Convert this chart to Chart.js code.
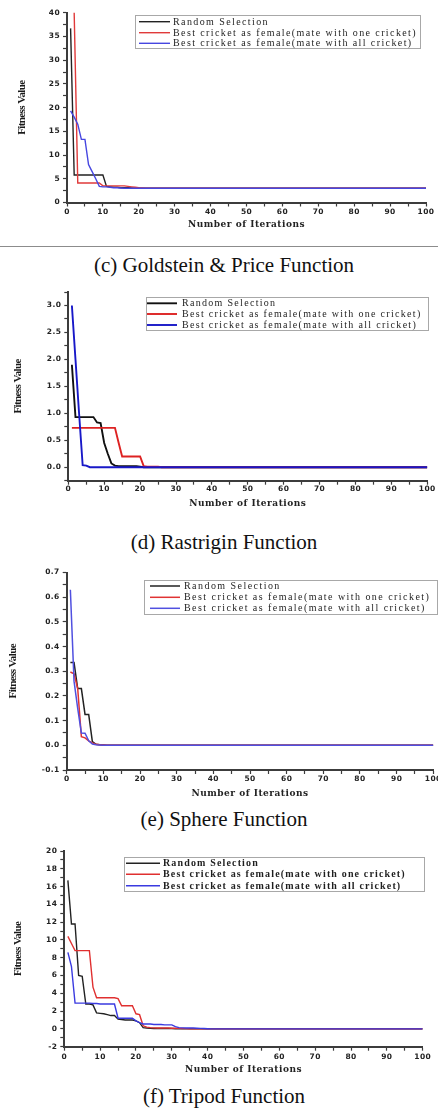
<!DOCTYPE html>
<html><head><meta charset="utf-8">
<script src="https://cdn.jsdelivr.net/npm/chart.js@4.4.1/dist/chart.umd.min.js"></script>
<style>
html,body{margin:0;padding:0;background:#fff;width:438px;height:1110px;overflow:hidden;position:relative}
canvas{position:absolute;left:0}
.cap{position:absolute;left:5px;width:438px;text-align:center;font-family:"Liberation Serif","Times New Roman",serif;font-size:21px;line-height:21px;color:#111;white-space:nowrap}
.sep{position:absolute;left:0;width:438px;top:246px;height:1px;background:#8c8c8c}
</style></head><body>
<canvas id="c1" width="438" height="240" style="top:0px"></canvas>
<div class="sep"></div>
<div class="cap" style="top:255px">(c) Goldstein &amp; Price Function</div>
<canvas id="c2" width="438" height="235" style="top:280px"></canvas>
<div class="cap" style="top:532px">(d) Rastrigin Function</div>
<canvas id="c3" width="438" height="245" style="top:560px"></canvas>
<div class="cap" style="top:809px">(e) Sphere Function</div>
<canvas id="c4" width="438" height="242" style="top:838px"></canvas>
<div class="cap" style="top:1086px">(f) Tripod Function</div>
<script>
// ---------- data ----------
const iterations = [1,2,3,4,5,6,7,8,9,10,11,12,13,14,15,16,17,18,19,20,21,22,23,24,25,26,27,28,29,30,31,32,33,34,35,36,37,38,39,40,41,42,43,44,45,46,47,48,49,50,51,52,53,54,55,56,57,58,59,60,61,62,63,64,65,66,67,68,69,70,71,72,73,74,75,76,77,78,79,80,81,82,83,84,85,86,87,88,89,90,91,92,93,94,95,96,97,98,99,100];
const seriesNames = ['Random Selection','Best cricket as female(mate with one cricket)','Best cricket as female(mate with all cricket)'];

// (c) Goldstein & Price
const gpRandom = [36.7,5.8,5.8,5.8,5.8,5.8,5.8,5.8,5.8,5.8,3.4,3.3,3.2,3.2,3.1,3.1,3.1,3.05,3.0,3.0,3.0,3.0,3.0,3.0,3.0,3.0,3.0,3.0,3.0,3.0,3.0,3.0,3.0,3.0,3.0,3.0,3.0,3.0,3.0,3.0,3.0,3.0,3.0,3.0,3.0,3.0,3.0,3.0,3.0,3.0,3.0,3.0,3.0,3.0,3.0,3.0,3.0,3.0,3.0,3.0,3.0,3.0,3.0,3.0,3.0,3.0,3.0,3.0,3.0,3.0,3.0,3.0,3.0,3.0,3.0,3.0,3.0,3.0,3.0,3.0,3.0,3.0,3.0,3.0,3.0,3.0,3.0,3.0,3.0,3.0,3.0,3.0,3.0,3.0,3.0,3.0,3.0,3.0,3.0,3.0];
const gpOne = [55,40,4.1,4.1,4.1,4.1,4.1,4.1,4.1,3.5,3.5,3.5,3.5,3.5,3.5,3.5,3.4,3.3,3.2,3.1,3.05,3.0,3.0,3.0,3.0,3.0,3.0,3.0,3.0,3.0,3.0,3.0,3.0,3.0,3.0,3.0,3.0,3.0,3.0,3.0,3.0,3.0,3.0,3.0,3.0,3.0,3.0,3.0,3.0,3.0,3.0,3.0,3.0,3.0,3.0,3.0,3.0,3.0,3.0,3.0,3.0,3.0,3.0,3.0,3.0,3.0,3.0,3.0,3.0,3.0,3.0,3.0,3.0,3.0,3.0,3.0,3.0,3.0,3.0,3.0,3.0,3.0,3.0,3.0,3.0,3.0,3.0,3.0,3.0,3.0,3.0,3.0,3.0,3.0,3.0,3.0,3.0,3.0,3.0,3.0];
const gpAll = [19.3,18.0,16.5,13.3,13.3,8.0,6.5,5.0,3.4,3.3,3.3,3.2,3.1,3.1,3.05,3.0,3.0,3.0,3.0,3.0,3.0,3.0,3.0,3.0,3.0,3.0,3.0,3.0,3.0,3.0,3.0,3.0,3.0,3.0,3.0,3.0,3.0,3.0,3.0,3.0,3.0,3.0,3.0,3.0,3.0,3.0,3.0,3.0,3.0,3.0,3.0,3.0,3.0,3.0,3.0,3.0,3.0,3.0,3.0,3.0,3.0,3.0,3.0,3.0,3.0,3.0,3.0,3.0,3.0,3.0,3.0,3.0,3.0,3.0,3.0,3.0,3.0,3.0,3.0,3.0,3.0,3.0,3.0,3.0,3.0,3.0,3.0,3.0,3.0,3.0,3.0,3.0,3.0,3.0,3.0,3.0,3.0,3.0,3.0,3.0];

// (d) Rastrigin
const raRandom = [1.9,0.93,0.93,0.93,0.93,0.93,0.93,0.83,0.82,0.45,0.25,0.07,0.03,0.02,0.02,0.02,0.02,0.02,0.02,0.01,0,0,0,0,0,0,0,0,0,0,0,0,0,0,0,0,0,0,0,0,0,0,0,0,0,0,0,0,0,0,0,0,0,0,0,0,0,0,0,0,0,0,0,0,0,0,0,0,0,0,0,0,0,0,0,0,0,0,0,0,0,0,0,0,0,0,0,0,0,0,0,0,0,0,0,0,0,0,0,0];
const raOne = [0.73,0.73,0.73,0.73,0.73,0.73,0.73,0.73,0.73,0.73,0.73,0.73,0.73,0.46,0.2,0.2,0.2,0.2,0.2,0.2,0.02,0.01,0.01,0.01,0.01,0,0,0,0,0,0,0,0,0,0,0,0,0,0,0,0,0,0,0,0,0,0,0,0,0,0,0,0,0,0,0,0,0,0,0,0,0,0,0,0,0,0,0,0,0,0,0,0,0,0,0,0,0,0,0,0,0,0,0,0,0,0,0,0,0,0,0,0,0,0,0,0,0,0,0];
const raAll = [3.0,2.0,1.0,0.04,0.03,0,0,0,0,0,0,0,0,0,0,0,0,0,0,0,0,0,0,0,0,0,0,0,0,0,0,0,0,0,0,0,0,0,0,0,0,0,0,0,0,0,0,0,0,0,0,0,0,0,0,0,0,0,0,0,0,0,0,0,0,0,0,0,0,0,0,0,0,0,0,0,0,0,0,0,0,0,0,0,0,0,0,0,0,0,0,0,0,0,0,0,0,0,0,0];

// (e) Sphere
const spRandom = [0.335,0.335,0.23,0.23,0.125,0.125,0.015,0.004,0.002,0.001,0,0,0,0,0,0,0,0,0,0,0,0,0,0,0,0,0,0,0,0,0,0,0,0,0,0,0,0,0,0,0,0,0,0,0,0,0,0,0,0,0,0,0,0,0,0,0,0,0,0,0,0,0,0,0,0,0,0,0,0,0,0,0,0,0,0,0,0,0,0,0,0,0,0,0,0,0,0,0,0,0,0,0,0,0,0,0,0,0,0];
const spOne = [0.297,0.29,0.23,0.035,0.03,0.018,0.01,0.004,0.002,0.001,0,0,0,0,0,0,0,0,0,0,0,0,0,0,0,0,0,0,0,0,0,0,0,0,0,0,0,0,0,0,0,0,0,0,0,0,0,0,0,0,0,0,0,0,0,0,0,0,0,0,0,0,0,0,0,0,0,0,0,0,0,0,0,0,0,0,0,0,0,0,0,0,0,0,0,0,0,0,0,0,0,0,0,0,0,0,0,0,0,0];
const spAll = [0.63,0.26,0.15,0.05,0.049,0.018,0.005,0.002,0.001,0,0,0,0,0,0,0,0,0,0,0,0,0,0,0,0,0,0,0,0,0,0,0,0,0,0,0,0,0,0,0,0,0,0,0,0,0,0,0,0,0,0,0,0,0,0,0,0,0,0,0,0,0,0,0,0,0,0,0,0,0,0,0,0,0,0,0,0,0,0,0,0,0,0,0,0,0,0,0,0,0,0,0,0,0,0,0,0,0,0,0];

// (f) Tripod
const trRandom = [16.7,11.8,11.8,6.0,5.9,2.8,2.8,2.7,1.8,1.75,1.7,1.6,1.5,1.5,1.1,1.05,1.0,1.0,1.0,0.9,0.7,0.15,0.1,0.06,0.05,0.05,0.05,0.05,0.05,0.04,0.02,0.01,0,0,0,0,0,0,0,0,0,0,0,0,0,0,0,0,0,0,0,0,0,0,0,0,0,0,0,0,0,0,0,0,0,0,0,0,0,0,0,0,0,0,0,0,0,0,0,0,0,0,0,0,0,0,0,0,0,0,0,0,0,0,0,0,0,0,0,0];
const trOne = [10.4,9.6,8.8,8.8,8.8,8.8,8.8,4.7,3.5,3.5,3.5,3.5,3.5,3.5,3.4,2.6,2.6,2.6,2.6,1.7,1.6,0.35,0.2,0.15,0.12,0.1,0.1,0.1,0.1,0.08,0.08,0.06,0.05,0.03,0.01,0,0,0,0,0,0,0,0,0,0,0,0,0,0,0,0,0,0,0,0,0,0,0,0,0,0,0,0,0,0,0,0,0,0,0,0,0,0,0,0,0,0,0,0,0,0,0,0,0,0,0,0,0,0,0,0,0,0,0,0,0,0,0,0,0];
const trAll = [8.6,7.0,2.9,2.9,2.9,2.9,2.9,2.85,2.85,2.8,2.8,2.8,2.8,2.8,1.2,1.2,1.2,1.2,1.2,0.9,0.7,0.55,0.55,0.55,0.5,0.5,0.5,0.45,0.45,0.45,0.25,0.15,0.12,0.1,0.1,0.1,0.08,0.06,0.04,0.02,0,0,0,0,0,0,0,0,0,0,0,0,0,0,0,0,0,0,0,0,0,0,0,0,0,0,0,0,0,0,0,0,0,0,0,0,0,0,0,0,0,0,0,0,0,0,0,0,0,0,0,0,0,0,0,0,0,0,0,0];

// ---------- helpers ----------
const boxLegend = {
  id: 'boxLegend',
  afterDatasetsDraw(chart, args, o) {
    const ctx = chart.ctx;
    ctx.save();
    ctx.fillStyle = '#fff';
    ctx.fillRect(o.x1, o.y1, o.x2 - o.x1, o.y2 - o.y1);
    ctx.strokeStyle = '#a8a8a8'; ctx.lineWidth = 1;
    ctx.strokeRect(Math.round(o.x1) + 0.5, Math.round(o.y1) + 0.5, Math.round(o.x2 - o.x1), Math.round(o.y2 - o.y1));
    ctx.font = o.font; ctx.letterSpacing = o.spacing;
    ctx.textBaseline = 'middle'; ctx.textAlign = 'left';
    chart.data.datasets.forEach((d, i) => {
      const y = o.rows[i];
      ctx.strokeStyle = d.borderColor; ctx.lineWidth = d.borderWidth;
      ctx.beginPath(); ctx.moveTo(o.lx1, y); ctx.lineTo(o.lx2, y); ctx.stroke();
      ctx.fillStyle = '#1e1e1e';
      ctx.fillText(d.label, o.tx, y + 0.5);
    });
    ctx.restore();
  }
};

function wrapSpacing(scale, labelLS, titleLS) {
  if (scale._wrappedLS) return;
  scale._wrappedLS = true;
  const dl = scale.drawLabels.bind(scale), dt = scale.drawTitle.bind(scale);
  scale.drawLabels = function (a) { const c = this.ctx; const p = c.letterSpacing; c.letterSpacing = labelLS; dl(a); c.letterSpacing = p; };
  scale.drawTitle = function (a) { const c = this.ctx; const p = c.letterSpacing; c.letterSpacing = titleLS; dt(a); c.letterSpacing = p; };
}

const AXIS = '#3c3c3c';
const tickFont = { family: 'DejaVu Sans', size: 7.5, weight: 'bold' };

function makeChart(id, g) {
  const cv = document.getElementById(id);
  const W = cv.width, H = cv.height;
  const a = g.area;
  return new Chart(cv, {
    type: 'line',
    data: {
      labels: iterations,
      datasets: g.series.map((s, i) => ({
        label: seriesNames[i], data: s, borderColor: g.colors[i], backgroundColor: g.colors[i],
        borderWidth: g.lw, pointRadius: 0, tension: 0, fill: false, order: [2, 1, 0][i]
      }))
    },
    options: {
      responsive: false, animation: false, devicePixelRatio: 1,
      layout: { padding: { top: a.top, left: 0, right: W - a.right, bottom: 0 } },
      plugins: { legend: { display: false }, tooltip: { enabled: false }, boxLegend: g.legend },
      scales: {
        x: {
          type: 'linear', min: 0, max: 100,
          afterFit: s => { s.height = H - a.bottom; s.paddingLeft = 0; s.paddingRight = 0; wrapSpacing(s, '0.4px', '0.5px'); },
          ticks: { stepSize: 5, autoSkip: false, maxRotation: 0, minRotation: 0, padding: g.xPad,
                   font: tickFont, color: '#222', callback: v => (v % 10 === 0 ? String(v) : '') },
          grid: { display: true, drawOnChartArea: false, drawTicks: true, tickLength: 4, tickColor: AXIS, tickWidth: 1.2 },
          border: { display: true, color: AXIS, width: 2 },
          title: { display: true, text: 'Number of Iterations', color: '#222',
                   font: { family: 'DejaVu Serif', size: 9, weight: 'bold' }, padding: { top: 0, bottom: g.xTitlePad } }
        },
        y: {
          type: 'linear', min: g.ymin, max: g.ymax,
          afterFit: s => { s.width = a.left; s.paddingTop = 0; s.paddingBottom = 0; wrapSpacing(s, '0.4px', '-0.6px'); },
          ticks: { stepSize: g.ystep, autoSkip: false, padding: 3, font: tickFont, color: '#222', callback: g.ylabel },
          grid: { display: true, drawOnChartArea: false, drawTicks: true, tickLength: 4, tickColor: AXIS, tickWidth: 1.2 },
          border: { display: true, color: AXIS, width: 2 },
          title: { display: true, text: 'Fitness Value', color: '#1a1a1a',
                   font: { family: 'Liberation Serif', size: 11, weight: 'bold' }, padding: { top: g.yTitlePad, bottom: 0 } }
        }
      }
    },
    plugins: [boxLegend]
  });
}

// (c)
makeChart('c1', {
  series: [gpRandom, gpOne, gpAll], colors: ['#222222', '#e03a3a', '#4646e0'], lw: 1.4,
  area: { left: 67, right: 426, top: 12.7, bottom: 202.5 },
  ymin: 0, ymax: 40, ystep: 2.5, ylabel: v => (v % 5 === 0 ? String(v) : ''),
  xPad: 1.2, xTitlePad: 9.5, yTitlePad: 15.7,
  legend: { x1: 135, y1: 15, x2: 420, y2: 48, rows: [21.7, 32.7, 43.3], lx1: 139, lx2: 170, tx: 173,
            font: '10px "Liberation Serif"', spacing: '1.4px' }
});
// (d)
makeChart('c2', {
  series: [raRandom, raOne, raAll], colors: ['#111111', '#dd2222', '#1818c8'], lw: 1.9,
  area: { left: 68.3, right: 427.3, top: 12, bottom: 200.7 },
  ymin: -0.25, ymax: 3.25, ystep: 0.25,
  ylabel: v => { const r = Math.round(v * 100); return (r % 50 === 0 && r >= 0) ? (Math.round(v * 10) / 10).toFixed(1) : ''; },
  xPad: 0.3, xTitlePad: 6.2, yTitlePad: 12,
  legend: { x1: 146, y1: 17, x2: 428, y2: 50, rows: [23.3, 34, 45], lx1: 147, lx2: 177, tx: 182,
            font: '10px "Liberation Serif"', spacing: '1.3px' }
});
// (e)
makeChart('c3', {
  series: [spRandom, spOne, spAll], colors: ['#222222', '#e03333', '#5050e0'], lw: 1.5,
  area: { left: 66.7, right: 433.3, top: 12.5, bottom: 210 },
  ymin: -0.1, ymax: 0.7, ystep: 0.05,
  ylabel: v => { const r = Math.round(v * 100); return (r % 10 === 0) ? (Math.round(v * 10) / 10).toFixed(1) : ''; },
  xPad: 0.6, xTitlePad: 6.2, yTitlePad: 7,
  legend: { x1: 144, y1: 20, x2: 437, y2: 54, rows: [26, 37.3, 48.3], lx1: 150, lx2: 180, tx: 184,
            font: '10px "Liberation Serif"', spacing: '1.45px' }
});
// (f)
makeChart('c4', {
  series: [trRandom, trOne, trAll], colors: ['#222222', '#e03030', '#3a3ae0'], lw: 1.4,
  area: { left: 64.3, right: 422.7, top: 13, bottom: 208.7 },
  ymin: -2, ymax: 20, ystep: 1, ylabel: v => (Math.round(v) % 2 === 0 ? String(v) : ''),
  xPad: 1.8, xTitlePad: 5.2, yTitlePad: 12,
  legend: { x1: 124, y1: 19, x2: 424, y2: 53, rows: [25.3, 36.3, 47.7], lx1: 126, lx2: 160, tx: 163,
            font: 'bold 10px "Liberation Serif"', spacing: '1.15px' }
});
</script>
</body></html>
